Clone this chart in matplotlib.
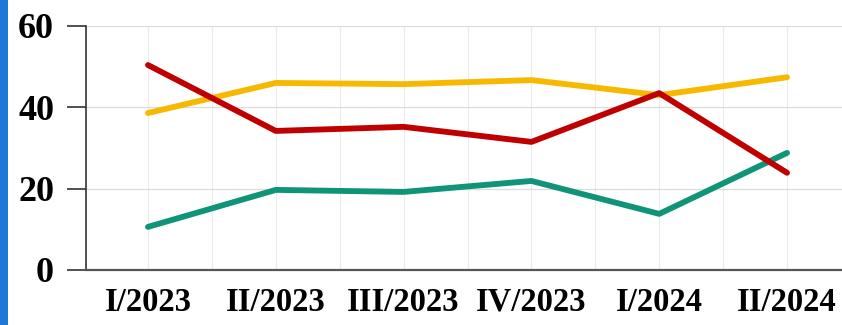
import matplotlib
matplotlib.use("Agg")
import matplotlib.pyplot as plt
from matplotlib.patches import Rectangle

categories = ["I/2023", "II/2023", "III/2023", "IV/2023", "I/2024", "II/2024"]
yellow_vals = [38.6, 46.0, 45.7, 46.7, 43.0, 47.4]
red_vals = [50.4, 34.2, 35.2, 31.5, 43.5, 23.9]
green_vals = [10.6, 19.7, 19.2, 21.9, 13.8, 28.8]
y_ticks = [0, 20, 40, 60]

plt.rcParams['font.family'] = ['Liberation Serif', 'DejaVu Serif']

fig = plt.figure(figsize=(8.42, 3.25), dpi=100)
fig.patch.set_facecolor('white')
fig.add_artist(Rectangle((0, 0), 8 / 842, 1, transform=fig.transFigure,
                         facecolor='#1f78d8', edgecolor='none'))

ax = fig.add_axes([86 / 842, 1 - 270 / 325, 1 - 86 / 842, (270 - 26) / 325])
x = list(range(len(categories)))

for i in range(len(categories)):
    ax.axvline(i, color='#ececec', lw=0.8, zorder=0)
    ax.axvline(i + 0.5, color='#ececec', lw=0.8, zorder=0)
for t in y_ticks[1:]:
    ax.axhline(t, color='#dcdcdc', lw=0.9, zorder=0)

ax.plot(x, yellow_vals, color='#f7b900', lw=4.2, solid_capstyle='round', zorder=3)
ax.plot(x, green_vals, color='#0f9478', lw=4.2, solid_capstyle='round', zorder=3)
ax.plot(x, red_vals, color='#c00000', lw=4.2, solid_capstyle='round', zorder=4)

ax.set_xlim(-0.485, 5.43)
ax.set_ylim(0, 60)
ax.set_yticks(y_ticks)
ax.set_xticks(x)
ax.set_xticklabels(categories, fontsize=23.5, fontweight='bold')
ax.set_yticklabels([str(t) for t in y_ticks], fontsize=26, fontweight='bold')
ax.tick_params(axis='y', length=14, width=1.2, color='#333333', pad=9)
ax.tick_params(axis='x', length=0, pad=12)

for s in ['top', 'right']:
    ax.spines[s].set_visible(False)
ax.spines['left'].set_color('#333333')
ax.spines['left'].set_linewidth(1.2)
ax.spines['bottom'].set_color('#555555')
ax.spines['bottom'].set_linewidth(1.6)

fig.savefig('out.png', dpi=100, facecolor='white')
